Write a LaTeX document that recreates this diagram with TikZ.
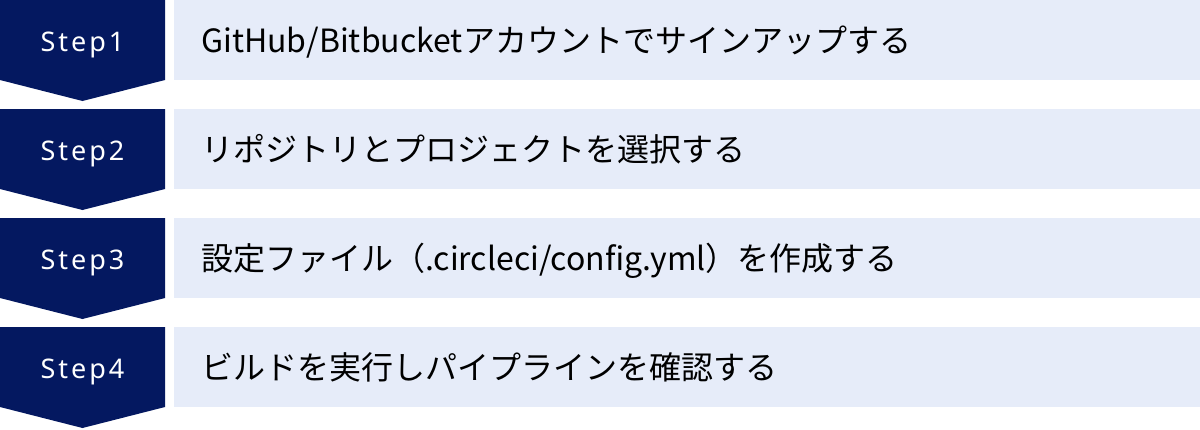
\documentclass[tikz,border=0pt]{standalone}
\usepackage{fontspec}
\newfontfamily\jpfont{Noto Sans CJK JP}
\newfontfamily\stepfont[LetterSpace=11]{Noto Sans}
\definecolor{navy}{RGB}{4,24,96}
\definecolor{paleblue}{RGB}{230,236,249}
\tikzset{
  chevron/.style={fill=navy},
  band/.style={fill=paleblue},
  steplabel/.style={text=white, font=\stepfont\fontsize{27}{32}\selectfont, inner sep=0pt, anchor=base},
  steptext/.style={text=black, font=\jpfont\fontsize{32}{38}\selectfont, inner sep=0pt, anchor=base west},
}
\begin{document}
\begin{tikzpicture}[x=1pt,y=-1pt]
\useasboundingbox (0,0) rectangle (1200,429);
\foreach \i/\t in {1/{GitHub/Bitbucketアカウントでサインアップする},2/{リポジトリとプロジェクトを選択する},3/{設定ファイル（.circleci/config.yml）を作成する},4/{ビルドを実行しパイプラインを確認する}}{
  \pgfmathsetmacro\top{(\i-1)*109}
  \fill[chevron] (0,\top) -- (165,\top) -- (165,\top+80) -- (82.5,\top+101) -- (0,\top+80) -- cycle;
  \fill[band] (174,\top) rectangle (1200,\top+80);
  \node[steplabel] (s\i) at (82.5,\top+51) {Step\i};
  \node[steptext] (t\i) at (201,\top+52) {\t};
}
\end{tikzpicture}
\end{document}
